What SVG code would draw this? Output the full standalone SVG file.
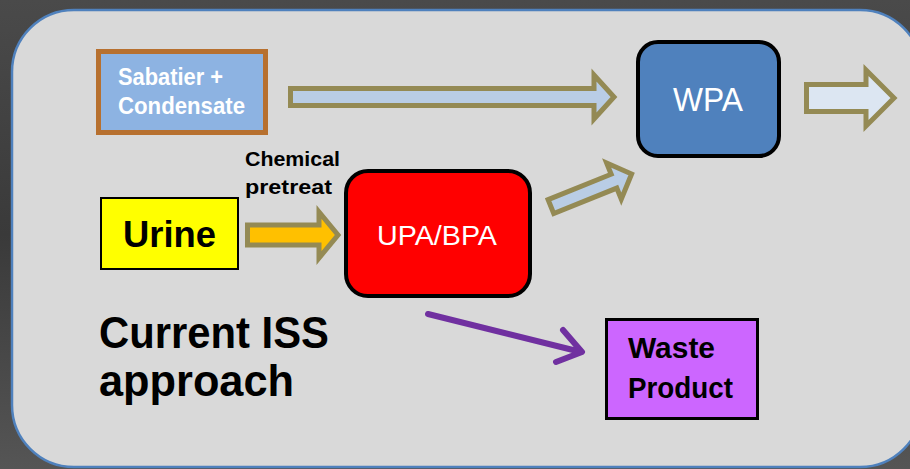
<svg xmlns="http://www.w3.org/2000/svg" width="910" height="469" viewBox="0 0 910 469">
  <defs>
    <linearGradient id="bg" x1="0" y1="0" x2="0" y2="1">
      <stop offset="0" stop-color="#4a4a4a"/>
      <stop offset="0.5" stop-color="#3a3a3a"/>
      <stop offset="1" stop-color="#555555"/>
    </linearGradient>
    <style>
      .t { font-family: "Liberation Sans", Arial, sans-serif; }
      .b { font-weight: bold; }
      .w { fill: #ffffff; }
      .k { fill: #000000; }
      .fat { stroke: #948A54; stroke-width: 5; stroke-linejoin: miter; }
      .purple { fill: none; stroke: #7030A0; stroke-width: 6; stroke-linecap: round; stroke-linejoin: round; }
    </style>
  </defs>

  <rect x="0" y="0" width="910" height="469" fill="url(#bg)"/>
  <rect id="panel" x="12" y="10" width="910" height="457" rx="62" ry="62" fill="#D9D9D9" stroke="#4F81BD" stroke-width="2.5"/>

  <g id="connectors">
    <polygon class="fat" fill="#B9CDE5" points="290.5,88.5 594,88.5 594,75 614,97 594,119 594,105.5 290.5,105.5"/>
    <polygon class="fat" fill="#DCE6F2" points="806.5,84.5 866,84.5 866,70 894,98 866,126 866,111.5 806.5,111.5"/>
    <polygon class="fat" fill="#FFC000" points="247.5,225 319,225 319,212 338,235 319,258 319,245 247.5,245"/>
    <polygon class="fat" fill="#B9CDE5" transform="translate(550,207) rotate(-22)" points="1,-7.5 69,-7.5 69,-19.5 88,0 69,19.5 69,7.5 1,7.5"/>
    <path class="purple" d="M428,314 L581,352 M563,330 L582,352 L556,362"/>
  </g>

  <g id="sabatier">
    <rect x="98.5" y="51.5" width="167" height="81" fill="#8DB3E2" stroke="#B7702F" stroke-width="5"/>
    <text class="t b w" x="118" y="85" font-size="24" textLength="105" lengthAdjust="spacingAndGlyphs">Sabatier +</text>
    <text class="t b w" x="118" y="114" font-size="24" textLength="127" lengthAdjust="spacingAndGlyphs">Condensate</text>
  </g>

  <g id="pretreat-label">
    <text class="t b k" x="245" y="166" font-size="20" textLength="95" lengthAdjust="spacingAndGlyphs">Chemical</text>
    <text class="t b k" x="245" y="194" font-size="20" textLength="87" lengthAdjust="spacingAndGlyphs">pretreat</text>
  </g>

  <g id="urine">
    <rect x="101" y="198" width="137" height="71" fill="#FFFF00" stroke="#000000" stroke-width="2"/>
    <text class="t b k" x="123" y="247" font-size="36" textLength="93" lengthAdjust="spacingAndGlyphs">Urine</text>
  </g>

  <g id="upa-bpa">
    <rect x="346" y="171" width="184" height="125" rx="22" ry="22" fill="#FF0000" stroke="#000000" stroke-width="4"/>
    <text class="t w" x="377" y="245" font-size="28" textLength="120" lengthAdjust="spacingAndGlyphs">UPA/BPA</text>
  </g>

  <g id="wpa">
    <rect x="638" y="42" width="141" height="114" rx="20" ry="20" fill="#4F81BD" stroke="#000000" stroke-width="4"/>
    <text class="t w" x="673" y="111" font-size="33" textLength="70" lengthAdjust="spacingAndGlyphs">WPA</text>
  </g>

  <g id="waste">
    <rect x="606.5" y="319.5" width="151" height="99" fill="#CC66FF" stroke="#000000" stroke-width="3"/>
    <text class="t b k" x="628" y="358" font-size="29" textLength="87" lengthAdjust="spacingAndGlyphs">Waste</text>
    <text class="t b k" x="628" y="398" font-size="29" textLength="105" lengthAdjust="spacingAndGlyphs">Product</text>
  </g>

  <g id="title">
    <text class="t b k" x="99" y="348" font-size="45" textLength="230" lengthAdjust="spacingAndGlyphs">Current ISS</text>
    <text class="t b k" x="99" y="396" font-size="45" textLength="195" lengthAdjust="spacingAndGlyphs">approach</text>
  </g>
</svg>
